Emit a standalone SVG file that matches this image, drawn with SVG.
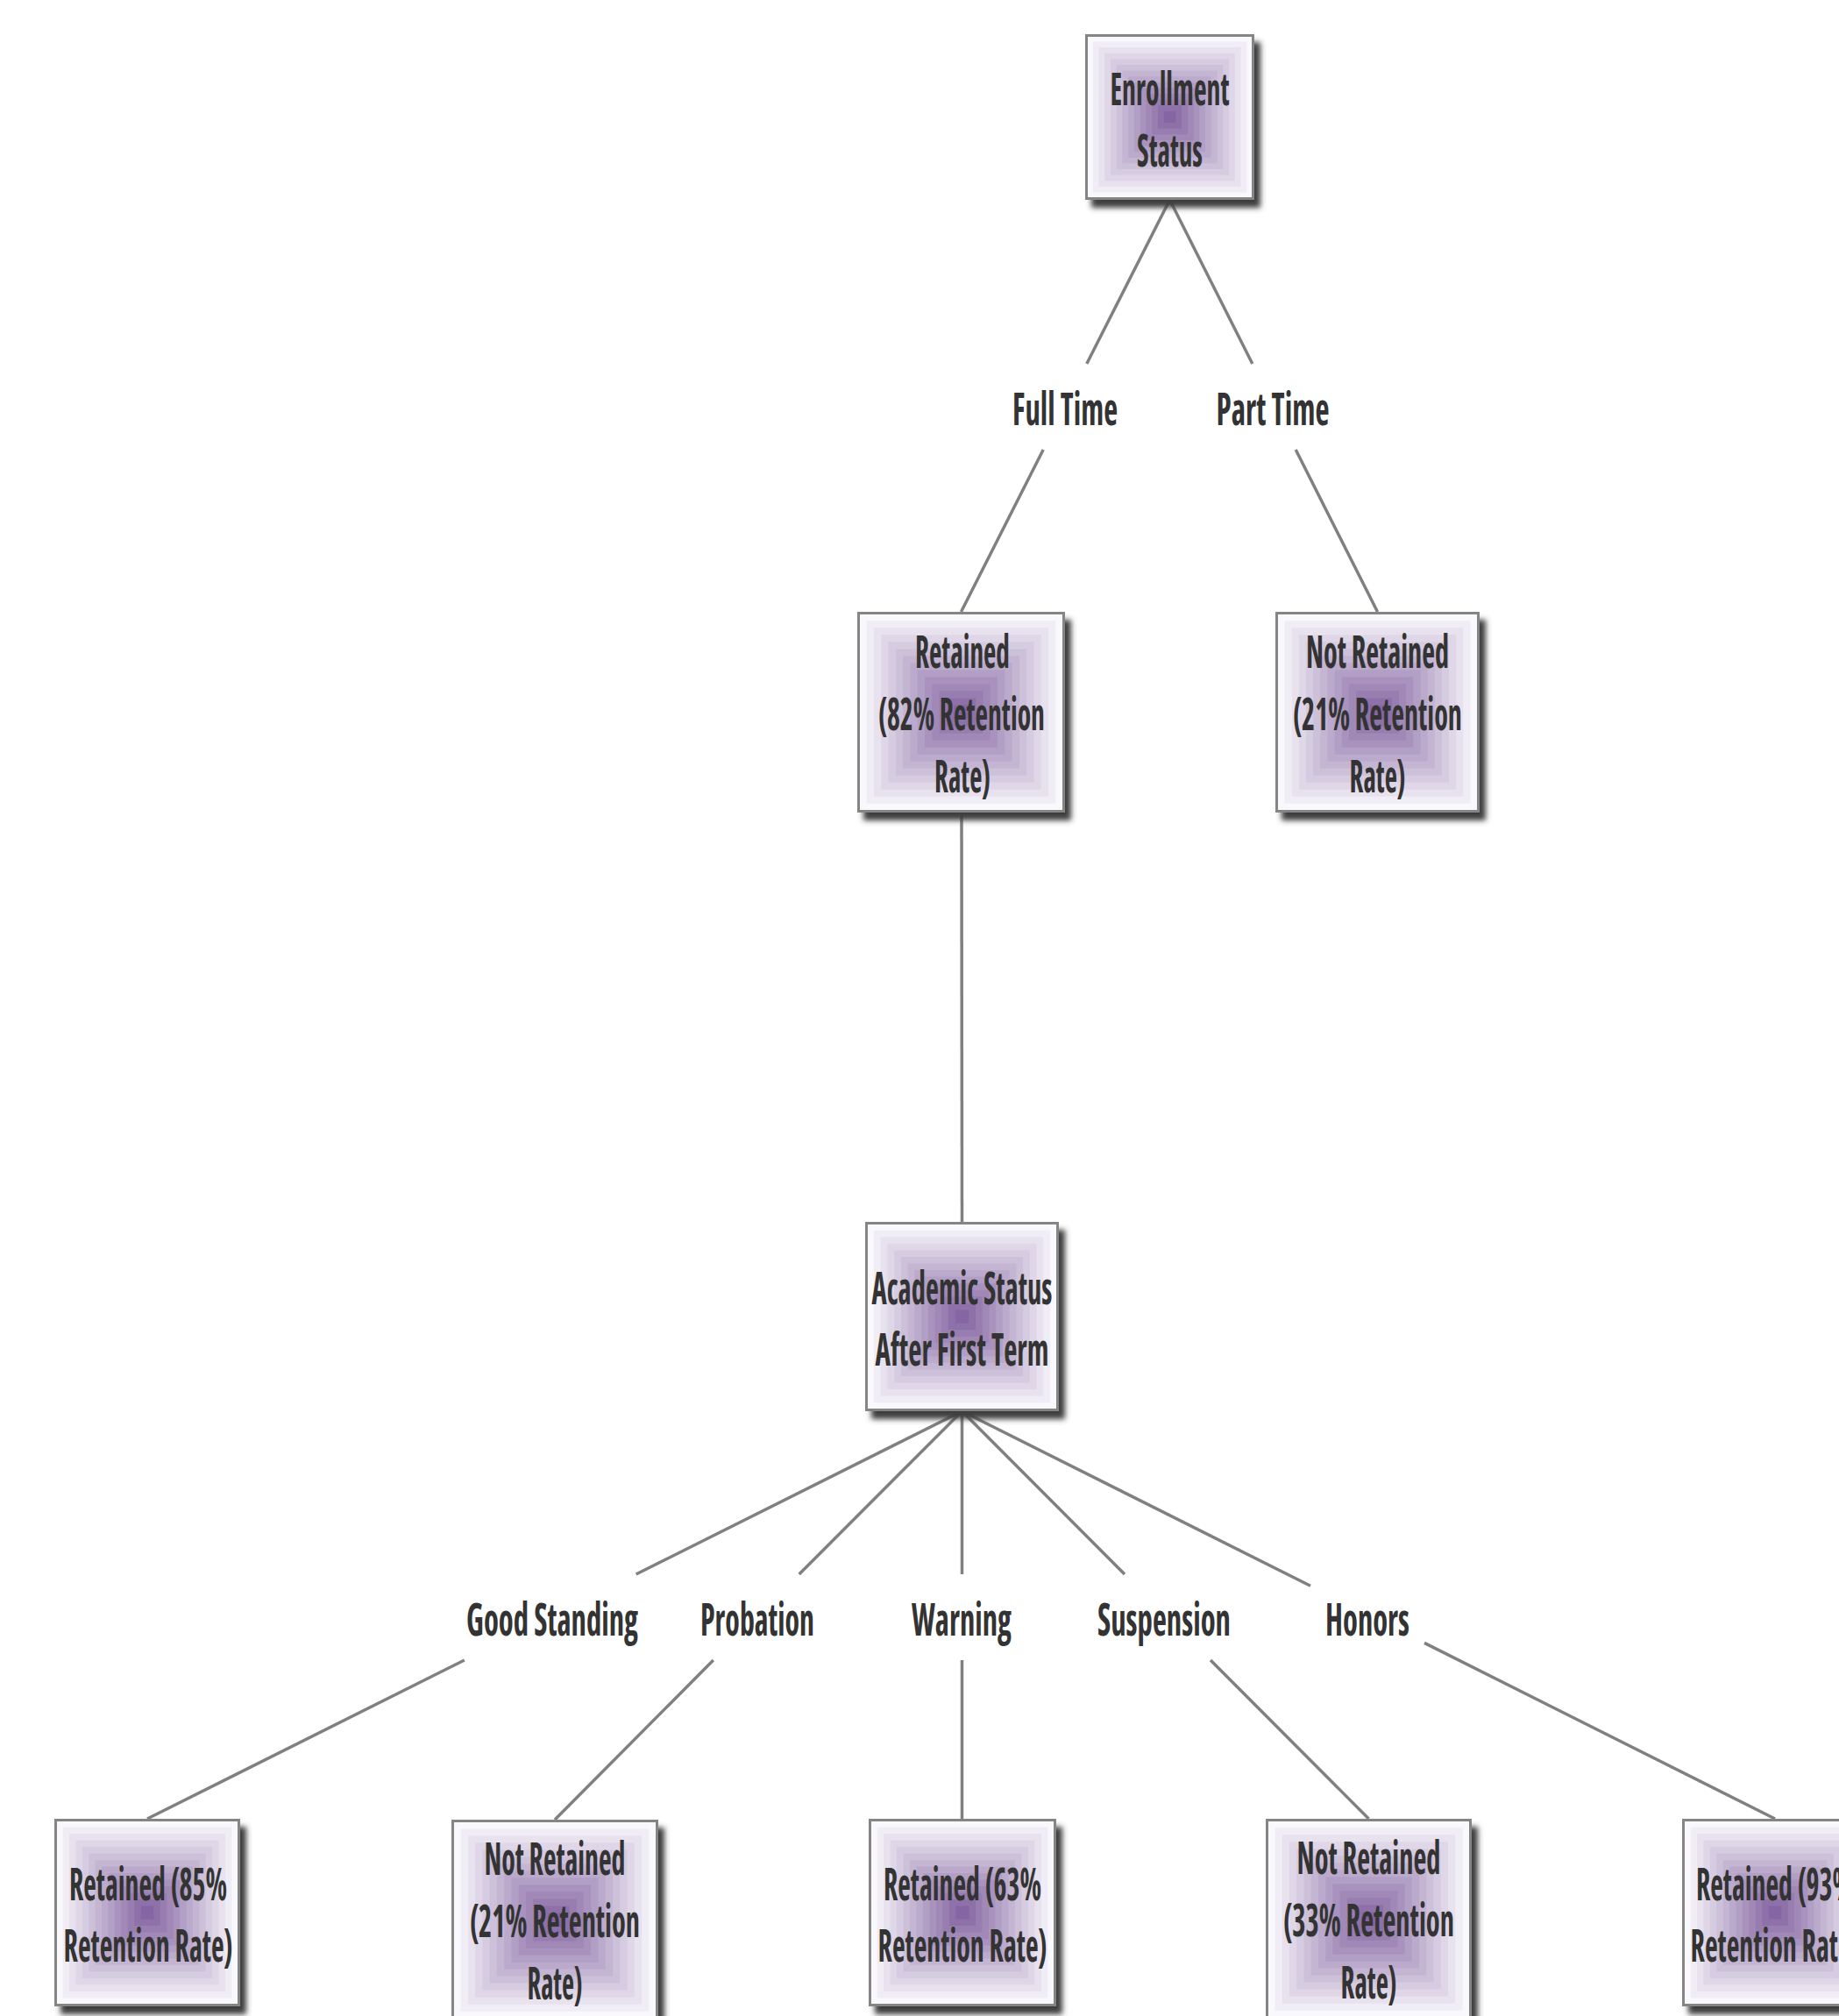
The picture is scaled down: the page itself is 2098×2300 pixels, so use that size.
<svg xmlns="http://www.w3.org/2000/svg" xmlns:xlink="http://www.w3.org/1999/xlink" width="2098" height="2300" viewBox="0 0 2098 2300">
<style>
  text { font-family: "Open Sans", "DejaVu Sans", sans-serif; font-weight: bold; font-size: 52px; fill: #333333; text-anchor: middle; font-stretch: condensed; }
  .box { fill: none; stroke: #858585; stroke-width: 3; }
  .shadow { fill: #3c3c3c; filter: url(#sh); }
  .conn { fill: none; stroke: #808080; stroke-width: 3.5; }
</style>
<defs>
  <filter id="sh" x="-10%" y="-10%" width="125%" height="125%">
    <feGaussianBlur stdDeviation="3"/>
  </filter>
  <symbol id="fill" viewBox="0 0 100 100" preserveAspectRatio="none">
    <rect x="0" y="0" width="100" height="100" fill="#f9f8fc"/>
    <rect x="4.5" y="4.5" width="91" height="91" fill="#f1edf6"/>
    <rect x="8" y="8" width="84" height="84" fill="#e8e2ef"/>
    <rect x="11.5" y="11.5" width="77" height="77" fill="#dfd7e8"/>
    <rect x="15" y="15" width="70" height="70" fill="#d6cce1"/>
    <rect x="18.5" y="18.5" width="63" height="63" fill="#cdc1da"/>
    <rect x="22" y="22" width="56" height="56" fill="#c4b5d3"/>
    <rect x="25.5" y="25.5" width="49" height="49" fill="#bbaacc"/>
    <rect x="29" y="29" width="42" height="42" fill="#b29fc5"/>
    <rect x="32.5" y="32.5" width="35" height="35" fill="#a993be"/>
    <rect x="36" y="36" width="28" height="28" fill="#a088b7"/>
    <rect x="39.5" y="39.5" width="21" height="21" fill="#977db0"/>
    <rect x="43" y="43" width="14" height="14" fill="#8e71a9"/>
    <rect x="46.5" y="46.5" width="7" height="7" fill="#8565a3"/>
  </symbol>
</defs>
<rect x="0" y="0" width="2098" height="2300" fill="#ffffff"/>

<g id="connectors">
  <path class="conn" d="M1334.5,228 L1239.8,415 M1190.2,513 L1096.5,698"/>
  <path class="conn" d="M1334.5,228 L1428.8,415 M1478.2,513 L1571.5,698"/>
  <path class="conn" d="M1097,927 L1097.5,1394"/>
  <path class="conn" d="M1097.5,1610 L725.7,1796 M529.8,1894 L168,2075"/>
  <path class="conn" d="M1097.5,1610 L911.7,1796 M813.8,1894 L633,2076"/>
  <path class="conn" d="M1097.5,1610 L1097.5,1796 M1097.5,1894 L1097.5,2075"/>
  <path class="conn" d="M1097.5,1610 L1283,1796 M1381,1894 L1561.5,2075"/>
  <path class="conn" d="M1097.5,1610 L1495,1809.3 M1625,1874.4 L2025,2075"/>
</g>

<g id="edge-labels">
  <text x="1215" y="485" textLength="120" lengthAdjust="spacingAndGlyphs">Full Time</text>
  <text x="1452" y="485" textLength="129" lengthAdjust="spacingAndGlyphs">Part Time</text>
  <text x="630" y="1866" textLength="196" lengthAdjust="spacingAndGlyphs">Good Standing</text>
  <text x="864" y="1866" textLength="130" lengthAdjust="spacingAndGlyphs">Probation</text>
  <text x="1097" y="1866" textLength="114" lengthAdjust="spacingAndGlyphs">Warning</text>
  <text x="1328" y="1866" textLength="152" lengthAdjust="spacingAndGlyphs">Suspension</text>
  <text x="1560" y="1866" textLength="96" lengthAdjust="spacingAndGlyphs">Honors</text>
</g>

<g id="node-enrollment">
  <rect class="shadow" x="1245" y="48" width="193" height="189"/>
  <use href="#fill" x="1238" y="39" width="193" height="189"/>
  <rect class="box" x="1239.5" y="40.5" width="190" height="186"/>
  <text x="1334.5" y="119.5" textLength="136" lengthAdjust="spacingAndGlyphs">Enrollment</text>
  <text x="1334.5" y="189.5" textLength="75" lengthAdjust="spacingAndGlyphs">Status</text>
</g>

<g id="node-retained-82">
  <rect class="shadow" x="985" y="707" width="237" height="229"/>
  <use href="#fill" x="978" y="698" width="237" height="229"/>
  <rect class="box" x="979.5" y="699.5" width="234" height="226"/>
  <text x="1098" y="761.5" textLength="108" lengthAdjust="spacingAndGlyphs">Retained</text>
  <text x="1097" y="832.5" textLength="190" lengthAdjust="spacingAndGlyphs">(82% Retention</text>
  <text x="1098" y="903.5" textLength="64" lengthAdjust="spacingAndGlyphs">Rate)</text>
</g>

<g id="node-not-retained-21-top">
  <rect class="shadow" x="1462" y="707" width="233" height="229"/>
  <use href="#fill" x="1455" y="698" width="233" height="229"/>
  <rect class="box" x="1456.5" y="699.5" width="230" height="226"/>
  <text x="1571.5" y="761.5" textLength="163" lengthAdjust="spacingAndGlyphs">Not Retained</text>
  <text x="1571.5" y="832.5" textLength="193" lengthAdjust="spacingAndGlyphs">(21% Retention</text>
  <text x="1571.5" y="903.5" textLength="64" lengthAdjust="spacingAndGlyphs">Rate)</text>
</g>

<g id="node-academic">
  <rect class="shadow" x="994" y="1403" width="221" height="216"/>
  <use href="#fill" x="987" y="1394" width="221" height="216"/>
  <rect class="box" x="988.5" y="1395.5" width="218" height="213"/>
  <text x="1097.5" y="1488" textLength="206" lengthAdjust="spacingAndGlyphs">Academic Status</text>
  <text x="1097.5" y="1558" textLength="198" lengthAdjust="spacingAndGlyphs">After First Term</text>
</g>

<g id="node-retained-85">
  <rect class="shadow" x="69" y="2084" width="212" height="214"/>
  <use href="#fill" x="62" y="2075" width="212" height="214"/>
  <rect class="box" x="63.5" y="2076.5" width="209" height="211"/>
  <text x="169" y="2168" textLength="180" lengthAdjust="spacingAndGlyphs">Retained (85%</text>
  <text x="169" y="2238" textLength="193" lengthAdjust="spacingAndGlyphs">Retention Rate)</text>
</g>

<g id="node-not-retained-21-bottom">
  <rect class="shadow" x="522" y="2085" width="236" height="229"/>
  <use href="#fill" x="515" y="2076" width="236" height="229"/>
  <rect class="box" x="516.5" y="2077.5" width="233" height="226"/>
  <text x="633" y="2139" textLength="161" lengthAdjust="spacingAndGlyphs">Not Retained</text>
  <text x="633" y="2210" textLength="194" lengthAdjust="spacingAndGlyphs">(21% Retention</text>
  <text x="633" y="2281" textLength="63" lengthAdjust="spacingAndGlyphs">Rate)</text>
</g>

<g id="node-retained-63">
  <rect class="shadow" x="998" y="2084" width="214" height="214"/>
  <use href="#fill" x="991" y="2075" width="214" height="214"/>
  <rect class="box" x="992.5" y="2076.5" width="211" height="211"/>
  <text x="1098" y="2168" textLength="180" lengthAdjust="spacingAndGlyphs">Retained (63%</text>
  <text x="1098" y="2238" textLength="193" lengthAdjust="spacingAndGlyphs">Retention Rate)</text>
</g>

<g id="node-not-retained-33">
  <rect class="shadow" x="1451" y="2084" width="235" height="229"/>
  <use href="#fill" x="1444" y="2075" width="235" height="229"/>
  <rect class="box" x="1445.5" y="2076.5" width="232" height="226"/>
  <text x="1561.5" y="2138" textLength="164" lengthAdjust="spacingAndGlyphs">Not Retained</text>
  <text x="1561.5" y="2209" textLength="195" lengthAdjust="spacingAndGlyphs">(33% Retention</text>
  <text x="1561.5" y="2280" textLength="64" lengthAdjust="spacingAndGlyphs">Rate)</text>
</g>

<g id="node-retained-93">
  <rect class="shadow" x="1926" y="2084" width="212" height="214"/>
  <use href="#fill" x="1919" y="2075" width="212" height="214"/>
  <rect class="box" x="1920.5" y="2076.5" width="209" height="211"/>
  <text x="2025" y="2168" textLength="180" lengthAdjust="spacingAndGlyphs">Retained (93%</text>
  <text x="2025" y="2238" textLength="193" lengthAdjust="spacingAndGlyphs">Retention Rate)</text>
</g>
</svg>
